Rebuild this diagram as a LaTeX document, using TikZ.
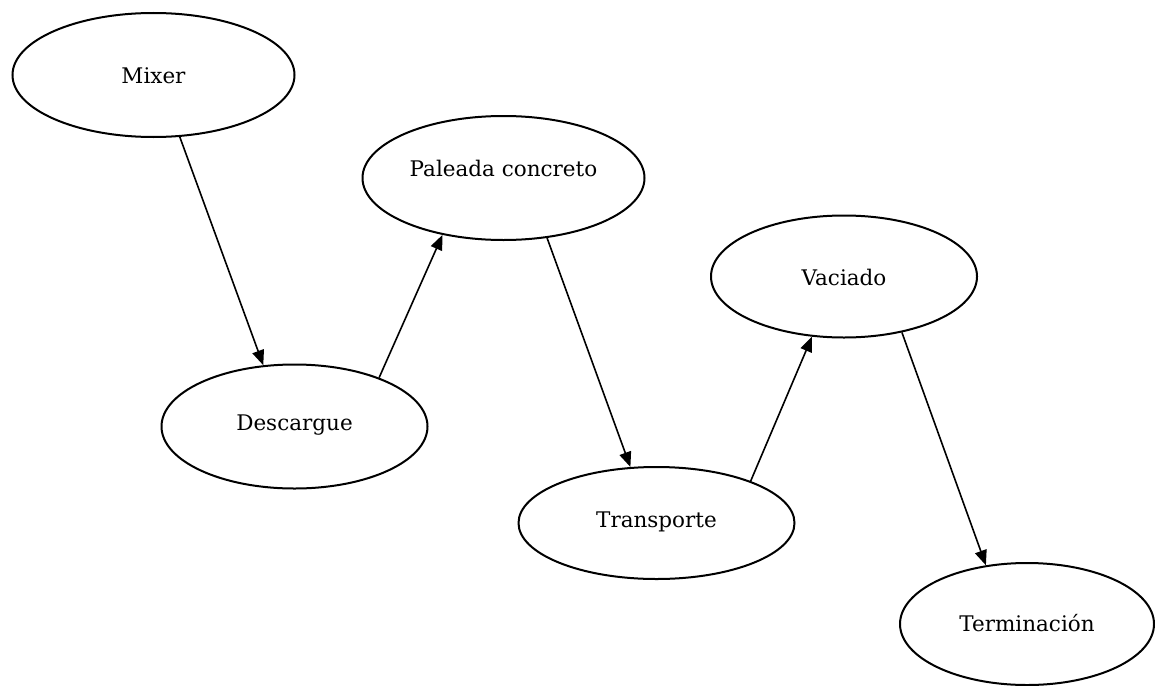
\documentclass[tikz,border=0pt]{standalone}
\usepackage{fontspec}
\setmainfont{DejaVu Serif}
\usetikzlibrary{shapes.geometric,arrows.meta}

\tikzset{
  stage/.style={ellipse, draw=black, line width=2pt, inner sep=0pt},
  stagetext/.style={font=\fontsize{21.5}{26}\selectfont, inner sep=0pt},
  flow/.style={line width=1.6pt, -{Triangle[length=15pt,width=12pt]}}
}

\begin{document}
\begin{tikzpicture}[x=1pt,y=-1pt]
  \useasboundingbox (0,0) rectangle (1155,685);

  % process stages
  \node[stage, minimum width=282pt, minimum height=124pt] (mixer) at (153.5,75) {};
  \node[stagetext] (mixertext) at (153.5,76) {Mixer};

  \node[stage, minimum width=282pt, minimum height=124pt] (paleada) at (503.5,178) {};
  \node[stagetext] (paleadatext) at (503.5,168) {Paleada concreto};

  \node[stage, minimum width=266pt, minimum height=124pt] (descargue) at (294.5,426.5) {};
  \node[stagetext] (descarguetext) at (294.5,425) {Descargue};

  \node[stage, minimum width=266pt, minimum height=122pt] (vaciado) at (844,276.5) {};
  \node[stagetext] (vaciadotext) at (844,277) {Vaciado};

  \node[stage, minimum width=276pt, minimum height=112pt] (transporte) at (656.5,523) {};
  \node[stagetext] (transportetext) at (656.5,522) {Transporte};

  \node[stage, minimum width=254pt, minimum height=122pt] (terminacion) at (1027,624) {};
  \node[stagetext] (terminaciontext) at (1027,623) {Terminación};

  % flow between stages
  \draw[flow] (mixer.-67.8) -- (descargue.117.8);
  \draw[flow] (descargue.30.4) -- (paleada.-137.2);
  \draw[flow] (paleada.-54) -- (transporte.115.4);
  \draw[flow] (transporte.24.9) -- (vaciado.-118.2);
  \draw[flow] (vaciado.-44.3) -- (terminacion.125.4);
\end{tikzpicture}
\end{document}
